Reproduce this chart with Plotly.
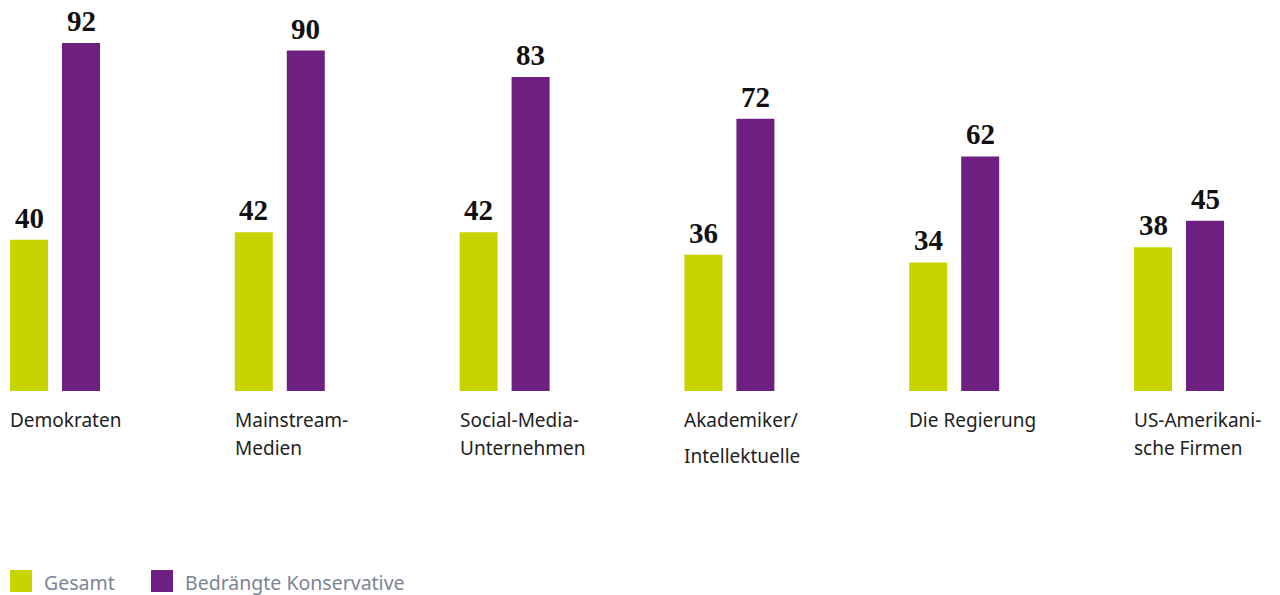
import plotly.graph_objects as go

categories = [
    ["Demokraten"],
    ["Mainstream-", "Medien"],
    ["Social-Media-", "Unternehmen"],
    ["Akademiker/", "Intellektuelle"],
    ["Die Regierung"],
    ["US-Amerikani-", "sche Firmen"],
]
gesamt = [40, 42, 42, 36, 34, 38]
konservative = [92, 90, 83, 72, 62, 45]

GREEN = "#c8d400"
PURPLE = "#6e2080"

# pixel layout: one group every 225 px, bars 38 px, gap 14 px
PITCH = 224.8
BAR_W = 38 / PITCH
OFF2 = 52 / PITCH
x = list(range(len(categories)))

fig = go.Figure()
fig.add_trace(go.Bar(
    x=x, y=gesamt, offset=0, width=BAR_W,
    marker=dict(color=GREEN, line=dict(width=0)),
    name="Gesamt", hoverinfo="skip",
))
fig.add_trace(go.Bar(
    x=x, y=konservative, offset=OFF2, width=BAR_W,
    marker=dict(color=PURPLE, line=dict(width=0)),
    name="Bedrängte Konservative", hoverinfo="skip",
))

value_font = dict(family="Liberation Serif", size=29, color="#111111")
for i in x:
    for off, val in [(0, gesamt[i]), (OFF2, konservative[i])]:
        fig.add_annotation(
            x=i + off + BAR_W / 2, y=val, text=f"<b>{val}</b>",
            showarrow=False, yanchor="bottom", yshift=4, font=value_font,
        )
    # category labels, left aligned under the bars
    gap = 36 if i == 3 else 28
    for k, line in enumerate(categories[i]):
        fig.add_annotation(
            x=i, y=0, text=line, showarrow=False,
            xanchor="left", yanchor="middle", xshift=-2,
            yshift=-29 - k * gap,
            font=dict(family="Noto Sans", size=19, color="#222222"),
        )

# legend drawn by hand: squares + gray text
for lx, label, col in [(10, "Gesamt", GREEN), (151, "Bedrängte Konservative", PURPLE)]:
    fig.add_shape(
        type="rect", xref="paper", yref="paper",
        x0=lx / 1280, x1=(lx + 22) / 1280,
        y0=-(570 - 391) / 391, y1=-(592 - 391) / 391,
        fillcolor=col, line=dict(width=0),
    )
    fig.add_annotation(
        xref="paper", yref="paper", x=(lx + 32) / 1280, y=-(582 - 391) / 391,
        text=label, showarrow=False, xanchor="left", yanchor="middle",
        font=dict(family="Noto Sans", size=19.5, color="#7b8594"),
    )

px_per_unit = (391 - 43) / 92
fig.update_layout(
    width=1280, height=595,
    margin=dict(l=0, r=0, t=0, b=204, pad=0),
    plot_bgcolor="white", paper_bgcolor="white",
    showlegend=False,
    xaxis=dict(range=[-10 / PITCH, (1280 - 10) / PITCH], visible=False, fixedrange=True),
    yaxis=dict(range=[0, 391 / px_per_unit], visible=False, fixedrange=True),
)
# drop the default 8px body margin so the figure fills the window
fig.write_html(
    "out.html",
    config={"displayModeBar": False},
    post_script="document.body.style.margin='0';",
)
